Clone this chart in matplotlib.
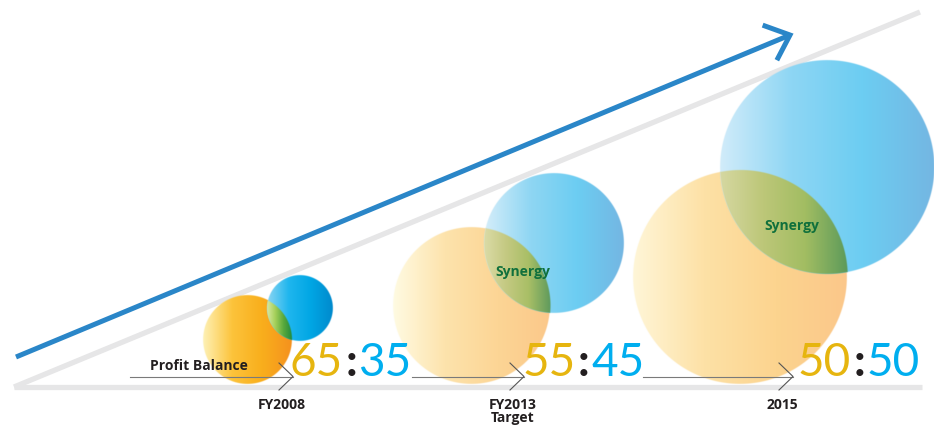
import numpy as np
import matplotlib
matplotlib.use('Agg')
import matplotlib.pyplot as plt
from matplotlib.colors import to_rgb

# Data
periods = ['FY2008', 'FY2013\nTarget', '2015']
share_left = [65, 55, 50]
share_right = [35, 45, 50]
start_label = 'Profit Balance'
overlap_label = 'Synergy'

# Layout (pixel space, y downwards)
W, H = 934, 429
arrow_x = [293, 524, 793]          # tip of each thin arrow
line_start = [130, 412, 643]
colon_x = [351, 584, 859]
num_base = 376
orange_c = [(247.5, 340, 44.5), (471.5, 305.5, 78.5), (740, 277.5, 107)]
blue_c = [(300, 308, 33), (553.5, 243, 70), (826.5, 167.5, 107)]

orange_stops = [
    ['#fef2b8', '#fcc33a', '#f9ae1c', '#f5911e'],
    ['#fffbe3', '#fde3ac', '#fcd595', '#fbc88a'],
    ['#fff6d8', '#fde1a6', '#fcd48f', '#fbc78a'],
]
blue_stops = [
    ['#8ed6f3', '#1fb6ee', '#00a6e4', '#0089cc'],
    ['#d6eefa', '#8fd6f3', '#6ccdf2', '#74b6e2'],
    ['#d2ecfa', '#8ed6f4', '#6ccdf2', '#74b6e2'],
]
green_stops = [
    ['#dbeaa6', '#a5d05a', '#58a83c', '#1f8a3c'],
    ['#dcdca8', '#c4c982', '#a9bf66', '#5e9a5c'],
    ['#d6d8a2', '#bdc779', '#a2bd62', '#5c9a5a'],
]

fig = plt.figure(figsize=(W / 100, H / 100), dpi=100)
ax = fig.add_axes([0, 0, 1, 1])
ax.set_xlim(0, W)
ax.set_ylim(H, 0)
ax.axis('off')


def grad_cols(stops, t):
    cols = np.array([to_rgb(c) for c in stops])
    pos = np.linspace(0, 1, len(stops))
    return np.stack([np.interp(t, pos, cols[:, k]) for k in range(3)], axis=-1)


def shade(circles, stops, z):
    # gradient image restricted to the intersection of the given circles
    cx, cy, r = circles[0]
    x0, x1, y0, y1 = cx - r - 2, cx + r + 2, cy - r - 2, cy + r + 2
    xs = np.linspace(x0, x1, int((x1 - x0) * 4))
    ys = np.linspace(y0, y1, int((y1 - y0) * 4))
    X, Y = np.meshgrid(xs, ys)
    alpha = np.ones_like(X)
    for (qx, qy, qr) in circles:
        d = np.hypot(X - qx, Y - qy)
        alpha = np.minimum(alpha, np.clip(qr - d + 0.5, 0, 1))
    inside = alpha > 0
    cols_x = X[inside]
    lo, hi = cols_x.min(), cols_x.max()
    t = np.clip((X - lo) / (hi - lo), 0, 1)
    img = np.dstack([grad_cols(stops, t), alpha])
    ax.imshow(img, extent=(x0, x1, y1, y0), origin='upper',
              interpolation='bilinear', zorder=z)


# gray triangle
ax.plot([14, 922], [387, 387], color='#e6e6e7', lw=3.8, solid_capstyle='butt', zorder=1)
ax.plot([14, 920], [387, 12], color='#e6e6e7', lw=3.8, solid_capstyle='butt', zorder=1)
# big blue arrow
ax.plot([16, 790], [357, 35], color='#2a86c8', lw=3.6, solid_capstyle='butt', zorder=2)
ax.plot([765, 790, 778], [26, 35, 58], color='#2a86c8', lw=3.6,
        solid_joinstyle='miter', zorder=2)

for i in range(3):
    shade([orange_c[i]], orange_stops[i], 3)
    shade([blue_c[i]], blue_stops[i], 4)
    shade([blue_c[i], orange_c[i]], green_stops[i], 5)

    # thin arrow
    tip = arrow_x[i]
    ax.plot([line_start[i], tip], [376.5, 376.5], color='#7a7a7a', lw=0.8, zorder=6)
    ax.plot([tip - 14, tip, tip - 14], [363, 376.5, 390], color='#555555', lw=0.8, zorder=6)

    # ratio
    ax.text(colon_x[i] - 8, num_base, str(share_left[i]), color='#e6b50f',
            fontsize=33, family='Lato', fontweight='normal', ha='right',
            va='baseline', zorder=7)
    ax.text(colon_x[i], num_base, ':', color='#231f20', fontsize=33,
            family='Lato', fontweight='bold', ha='center', va='baseline', zorder=7)
    ax.text(colon_x[i] + 7, num_base, str(share_right[i]), color='#00aeef',
            fontsize=33, family='Lato', fontweight='normal', ha='left',
            va='baseline', zorder=7)

    # period label
    ax.text(tip - 11, 398, periods[i], color='#231f20', fontsize=10,
            family='Open Sans', fontweight='bold', ha='center', va='top',
            linespacing=0.95, zorder=7)

ax.text(523, 272, overlap_label, color='#10703c', fontsize=10, family='Open Sans',
        fontweight='bold', ha='center', va='center', zorder=8)
ax.text(792, 226, overlap_label, color='#10703c', fontsize=10, family='Open Sans',
        fontweight='bold', ha='center', va='center', zorder=8)
ax.text(199, 370, start_label, color='#231f20', fontsize=10, family='Open Sans',
        fontweight='bold', ha='center', va='baseline', zorder=8)

fig.savefig('out.png', dpi=100)
